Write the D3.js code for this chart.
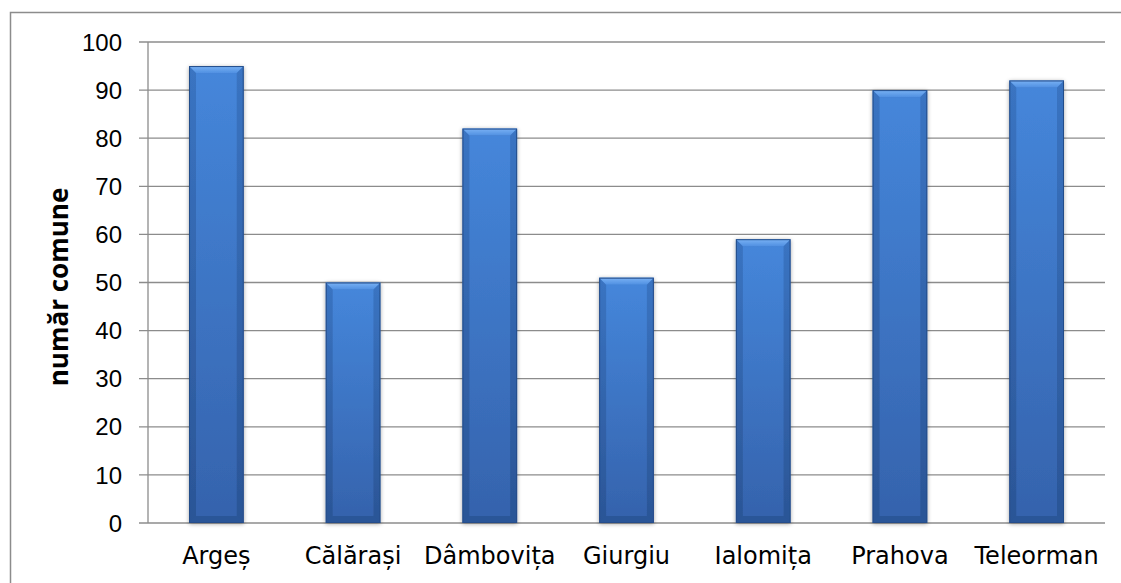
<!DOCTYPE html>
<html><head><meta charset="utf-8">
<script src="https://cdn.jsdelivr.net/npm/d3@7"></script>
<style>html,body{margin:0;padding:0;background:#fff;}svg{display:block;}</style>
</head><body>
<svg id="c" width="1121" height="583"></svg>
<script>
const categories = ["Argeș", "Călărași", "Dâmbovița", "Giurgiu", "Ialomița", "Prahova", "Teleorman"];
const values = [95, 50, 82, 51, 59, 90, 92];
const yTicks = [0, 10, 20, 30, 40, 50, 60, 70, 80, 90, 100];
const yTitle = "număr comune";

const svg = d3.select("#c");
const L = 148, R = 1105, T = 42, B = 523;

const defs = svg.append("defs");
const g1 = defs.append("linearGradient").attr("id","body").attr("x1",0).attr("y1",0).attr("x2",0).attr("y2",1);
g1.append("stop").attr("offset","0%").attr("stop-color","#4586da");
g1.append("stop").attr("offset","100%").attr("stop-color","#3563ad");
const g2 = defs.append("linearGradient").attr("id","side").attr("x1",0).attr("y1",0).attr("x2",0).attr("y2",1);
g2.append("stop").attr("offset","0%").attr("stop-color","#3a74c2");
g2.append("stop").attr("offset","100%").attr("stop-color","#2b5596");
const g3 = defs.append("linearGradient").attr("id","top").attr("x1",0).attr("y1",0).attr("x2",0).attr("y2",1);
g3.append("stop").attr("offset","0%").attr("stop-color","#7ab2f4");
g3.append("stop").attr("offset","100%").attr("stop-color","#5090e2");
const f = defs.append("filter").attr("id","sh").attr("x","-20%").attr("y","-5%").attr("width","140%").attr("height","110%");
f.append("feGaussianBlur").attr("in","SourceAlpha").attr("stdDeviation",2);
f.append("feOffset").attr("dx",0).attr("dy",1).attr("result","b");
f.append("feComponentTransfer").append("feFuncA").attr("type","linear").attr("slope",0.35);
const fm = f.append("feMerge"); fm.append("feMergeNode"); fm.append("feMergeNode").attr("in","SourceGraphic");

// outer border
svg.append("path").attr("d","M10.5,590 V12.5 H1125").attr("fill","none").attr("stroke","#8c8c8c").attr("stroke-width",1.5);

const x = d3.scaleBand().domain(categories).range([L, R]).paddingInner(0.6).paddingOuter(0.3);
const y = d3.scaleLinear().domain([0, 100]).range([B, T]);

// gridlines
svg.append("g").selectAll("line").data(yTicks).join("line")
  .attr("x1", L - 9).attr("x2", R).attr("y1", d => y(d)).attr("y2", d => y(d))
  .attr("stroke", "#8c8c8c").attr("stroke-width", 1.3);
svg.append("line").attr("x1", L).attr("x2", L).attr("y1", T).attr("y2", B).attr("stroke","#8c8c8c").attr("stroke-width",1.3);

// y labels
svg.append("g").selectAll("text").data(yTicks).join("text")
  .attr("x", 122).attr("y", d => y(d)).attr("dy","0.36em").attr("text-anchor","end")
  .attr("font-family","Liberation Sans, Arial, sans-serif").attr("font-size",24).attr("fill","#000")
  .text(d => d);

// bars
const bw = x.bandwidth(), bv = 7;
const bars = svg.append("g").selectAll("g").data(values).join("g")
  .attr("filter","url(#sh)");
bars.each(function(d, i) {
  const gg = d3.select(this);
  const x0 = x(categories[i]), x1 = x0 + bw, y0 = y(d), y1 = y(0);
  gg.append("rect").attr("x", x0).attr("y", y0).attr("width", bw).attr("height", y1 - y0).attr("fill","url(#side)");
  gg.append("rect").attr("x", x0 + bv).attr("y", y0 + bv).attr("width", bw - 2*bv).attr("height", y1 - y0 - 2*bv).attr("fill","url(#body)");
  gg.append("path").attr("d", `M${x0},${y0} H${x1} L${x1-bv},${y0+bv} H${x0+bv} Z`).attr("fill","url(#top)");
  gg.append("path").attr("d", `M${x0},${y1} H${x1} L${x1-bv},${y1-bv} H${x0+bv} Z`).attr("fill","#2d5899").attr("opacity",0.8);
  gg.append("rect").attr("x", x0+0.5).attr("y", y0+0.5).attr("width", bw-1).attr("height", y1 - y0 - 1)
    .attr("fill","none").attr("stroke","#254d8a").attr("stroke-width",1);
});

// x labels
svg.append("g").selectAll("text").data(categories).join("text")
  .attr("x", d => x(d) + bw/2).attr("y", 564).attr("text-anchor","middle")
  .attr("font-family","DejaVu Sans, sans-serif").attr("font-size",24).attr("fill","#000")
  .text(d => d);

// y title
svg.append("text").attr("transform","translate(68,287) rotate(-90)").attr("text-anchor","middle")
  .attr("font-family","Open Sans, sans-serif").attr("font-weight","bold").attr("font-size",26).attr("fill","#000")
  .text(yTitle);
</script>
</body></html>
